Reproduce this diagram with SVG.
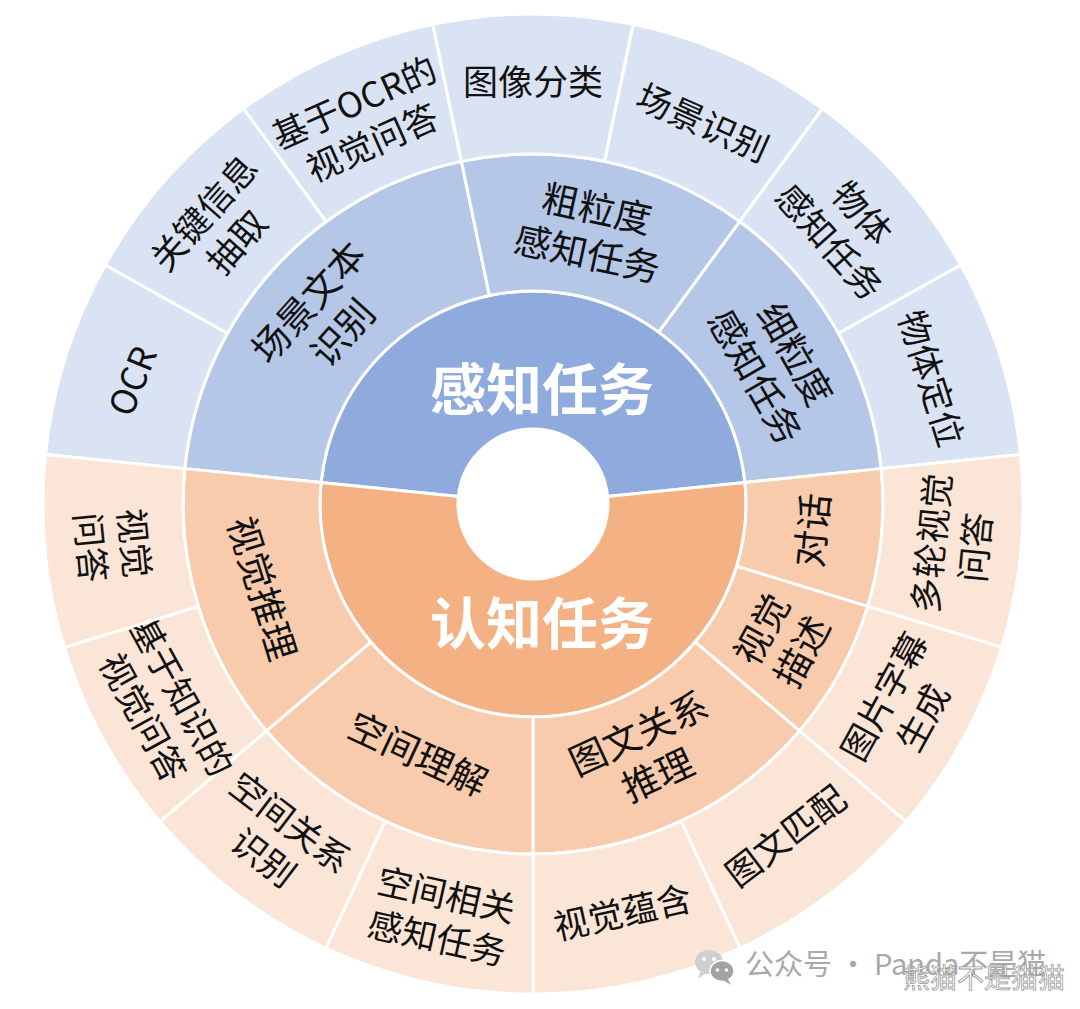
<svg xmlns="http://www.w3.org/2000/svg" width="1080" height="1009" viewBox="0 0 1080 1009">
<style>
.seg{stroke:#ffffff;stroke-width:3;stroke-linejoin:round}
.b1{fill:#8faadc}.b2{fill:#b4c7e7}.b3{fill:#dae3f3}
.o1{fill:#f4b183}.o2{fill:#f8cbad}.o3{fill:#fbe5d6}
text{font-family:"Noto Sans CJK SC","Noto Sans",sans-serif;text-anchor:middle;dominant-baseline:central}
.t3{font-size:35px;fill:#111111}
.t2{font-size:37px;fill:#111111}
.t1{font-size:56px;font-weight:bold;fill:#ffffff}
.wm{font-size:29px;fill:#a9a9a9;text-anchor:start;dominant-baseline:auto}
.wm2{font-size:27px;fill:#ffffff;stroke:#9a9a9a;stroke-width:0.8;text-anchor:start;dominant-baseline:auto}
</style>
<rect width="1080" height="1009" fill="#ffffff"/>

<!-- inner ring -->
<g id="perception">
<path class="seg b1" d="M321.09,482.47 A213,213 0 0 1 744.91,482.47 L607.62,496.42 A75,75 0 0 0 458.38,496.42 Z"/>
<text class="t1" x="542" y="385">感知任务</text>
</g>
<g id="cognition">
<path class="seg o1" d="M744.91,482.47 A213,213 0 1 1 321.09,482.47 L458.38,496.42 A75,75 0 1 0 607.62,496.42 Z"/>
<text class="t1" x="542" y="619">认知任务</text>
</g>

<!-- middle ring -->
<g id="scene-text">
<path class="seg b2" d="M184.79,468.63 A350,350 0 0 1 461.42,161.40 L489.44,295.50 A213,213 0 0 0 321.09,482.47 Z"/>
<g transform="translate(323.8,315.6) rotate(-48)"><text class="t2" y="-23">场景文本</text><text class="t2" y="23">识别</text></g>
</g>
<g id="coarse">
<path class="seg b2" d="M461.42,161.40 A350,350 0 0 1 739.71,221.56 L658.80,332.12 A213,213 0 0 0 489.44,295.50 Z"/>
<g transform="translate(592.5,228.9) rotate(12.2)"><text class="t2" y="-23">粗粒度</text><text class="t2" y="23">感知任务</text></g>
</g>
<g id="fine">
<path class="seg b2" d="M739.71,221.56 A350,350 0 0 1 881.21,468.63 L744.91,482.47 A213,213 0 0 0 658.80,332.12 Z"/>
<g transform="translate(777.3,364.1) rotate(60.2)"><text class="t2" y="-23">细粒度</text><text class="t2" y="23">感知任务</text></g>
</g>
<g id="dialogue">
<path class="seg o2" d="M881.21,468.63 A350,350 0 0 1 867.71,606.33 L736.69,566.27 A213,213 0 0 0 744.91,482.47 Z"/>
<g transform="translate(810,530) rotate(-84.4)"><text class="t2">对话</text></g>
</g>
<g id="visual-desc">
<path class="seg o2" d="M867.71,606.33 A350,350 0 0 1 799.55,730.85 L695.21,642.05 A213,213 0 0 0 736.69,566.27 Z"/>
<g transform="translate(779.9,639.2) rotate(-61.3)"><text class="t2" y="-23">视觉</text><text class="t2" y="23">描述</text></g>
</g>
<g id="image-text-reasoning">
<path class="seg o2" d="M799.55,730.85 A350,350 0 0 1 533,854 L533,717 A213,213 0 0 0 695.21,642.05 Z"/>
<g transform="translate(647.1,752) rotate(-24.8)"><text class="t2" y="-23">图文关系</text><text class="t2" y="23">推理</text></g>
</g>
<g id="spatial">
<path class="seg o2" d="M533,854 A350,350 0 0 1 266.45,730.85 L370.79,642.05 A213,213 0 0 0 533,717 Z"/>
<g transform="translate(418.9,752) rotate(24.8)"><text class="t2">空间理解</text></g>
</g>
<g id="visual-reasoning">
<path class="seg o2" d="M266.45,730.85 A350,350 0 0 1 184.79,468.63 L321.09,482.47 A213,213 0 0 0 370.79,642.05 Z"/>
<g transform="translate(264.2,587.7) rotate(72.7)"><text class="t2">视觉推理</text></g>
</g>

<!-- outer ring -->
<g id="ocr">
<path class="seg b3" d="M45.51,454.48 A490,490 0 0 1 105.27,264.95 L227.48,333.25 A350,350 0 0 0 184.79,468.63 Z"/>
<g transform="translate(130,380) rotate(-68)"><text class="t3">OCR</text></g>
</g>
<g id="key-info">
<path class="seg b3" d="M105.27,264.95 A490,490 0 0 1 243.60,108.59 L326.29,221.56 A350,350 0 0 0 227.48,333.25 Z"/>
<g transform="translate(218.4,225.7) rotate(-48.5)"><text class="t3" y="-22">关键信息</text><text class="t3" y="22">抽取</text></g>
</g>
<g id="ocr-vqa">
<path class="seg b3" d="M243.60,108.59 A490,490 0 0 1 432.79,24.35 L461.42,161.40 A350,350 0 0 0 326.29,221.56 Z"/>
<g transform="translate(362.2,120.3) rotate(-24)"><text class="t3" y="-22">基于OCR的</text><text class="t3" y="22">视觉问答</text></g>
</g>
<g id="img-cls">
<path class="seg b3" d="M432.79,24.35 A490,490 0 0 1 633.21,24.35 L604.58,161.40 A350,350 0 0 0 461.42,161.40 Z"/>
<text class="t3" x="533" y="79">图像分类</text>
</g>
<g id="scene-rec">
<path class="seg b3" d="M633.21,24.35 A490,490 0 0 1 822.40,108.59 L739.71,221.56 A350,350 0 0 0 604.58,161.40 Z"/>
<g transform="translate(703.8,120.3) rotate(24)"><text class="t3">场景识别</text></g>
</g>
<g id="object-percep">
<path class="seg b3" d="M822.40,108.59 A490,490 0 0 1 960.73,264.95 L838.52,333.25 A350,350 0 0 0 739.71,221.56 Z"/>
<g transform="translate(847.6,225.7) rotate(48.5)"><text class="t3" y="-22">物体</text><text class="t3" y="22">感知任务</text></g>
</g>
<g id="object-loc">
<path class="seg b3" d="M960.73,264.95 A490,490 0 0 1 1020.49,454.48 L881.21,468.63 A350,350 0 0 0 838.52,333.25 Z"/>
<g transform="translate(933.6,377.7) rotate(72.5)"><text class="t3">物体定位</text></g>
</g>
<g id="multi-vqa">
<path class="seg o3" d="M1020.49,454.48 A490,490 0 0 1 1001.59,647.26 L867.71,606.33 A350,350 0 0 0 881.21,468.63 Z"/>
<g transform="translate(951,545) rotate(-84.4)"><text class="t3" y="-22">多轮视觉</text><text class="t3" y="22">问答</text></g>
</g>
<g id="caption">
<path class="seg o3" d="M1001.59,647.26 A490,490 0 0 1 906.16,821.59 L799.55,730.85 A350,350 0 0 0 867.71,606.33 Z"/>
<g transform="translate(901.4,705.7) rotate(-61.3)"><text class="t3" y="-22">图片字幕</text><text class="t3" y="22">生成</text></g>
</g>
<g id="matching">
<path class="seg o3" d="M906.16,821.59 A490,490 0 0 1 740.08,948.09 L680.92,821.21 A350,350 0 0 0 799.55,730.85 Z"/>
<g transform="translate(784,834) rotate(-37.3)"><text class="t3">图文匹配</text></g>
</g>
<g id="entailment">
<path class="seg o3" d="M740.08,948.09 A490,490 0 0 1 533,994 L533,854 A350,350 0 0 0 680.92,821.21 Z"/>
<g transform="translate(622,910) rotate(-12.5)"><text class="t3">视觉蕴含</text></g>
</g>
<g id="spatial-percep">
<path class="seg o3" d="M533,994 A490,490 0 0 1 325.92,948.09 L385.08,821.21 A350,350 0 0 0 533,854 Z"/>
<g transform="translate(442.1,914) rotate(12.5)"><text class="t3" y="-22">空间相关</text><text class="t3" y="22">感知任务</text></g>
</g>
<g id="spatial-rel">
<path class="seg o3" d="M325.92,948.09 A490,490 0 0 1 159.84,821.59 L266.45,730.85 A350,350 0 0 0 385.08,821.21 Z"/>
<g transform="translate(278.5,838.1) rotate(37.3)"><text class="t3" y="-22">空间关系</text><text class="t3" y="22">识别</text></g>
</g>
<g id="kb-vqa">
<path class="seg o3" d="M159.84,821.59 A490,490 0 0 1 64.41,647.26 L198.29,606.33 A350,350 0 0 0 266.45,730.85 Z"/>
<g transform="translate(164.6,705.7) rotate(61.3)"><text class="t3" y="-22">基于知识的</text><text class="t3" y="22">视觉问答</text></g>
</g>
<g id="vqa">
<path class="seg o3" d="M64.41,647.26 A490,490 0 0 1 45.51,454.48 L184.79,468.63 A350,350 0 0 0 198.29,606.33 Z"/>
<g transform="translate(115,545) rotate(84.4)"><text class="t3" y="-22">视觉</text><text class="t3" y="22">问答</text></g>
</g>

<!-- watermark -->
<g id="watermark">
<ellipse cx="709" cy="962" rx="14" ry="12" fill="#cfcfcf"/>
<path d="M700,972 L698,979 L706,973 Z" fill="#cfcfcf"/>
<circle cx="704" cy="959" r="2" fill="#ffffff"/>
<circle cx="714" cy="959" r="2" fill="#ffffff"/>
<ellipse cx="722" cy="971" rx="12" ry="10.5" fill="#a3a3a3" stroke="#ffffff" stroke-width="1.5"/>
<path d="M728,979 L731,985 L723,980 Z" fill="#a3a3a3"/>
<circle cx="717.5" cy="970" r="1.8" fill="#ffffff"/>
<circle cx="726.5" cy="970" r="1.8" fill="#ffffff"/>
<text class="wm" x="745" y="975">公众号 · Panda不是猫</text>
<text class="wm2" x="903" y="988">熊猫不是猫猫</text>
</g>
</svg>
